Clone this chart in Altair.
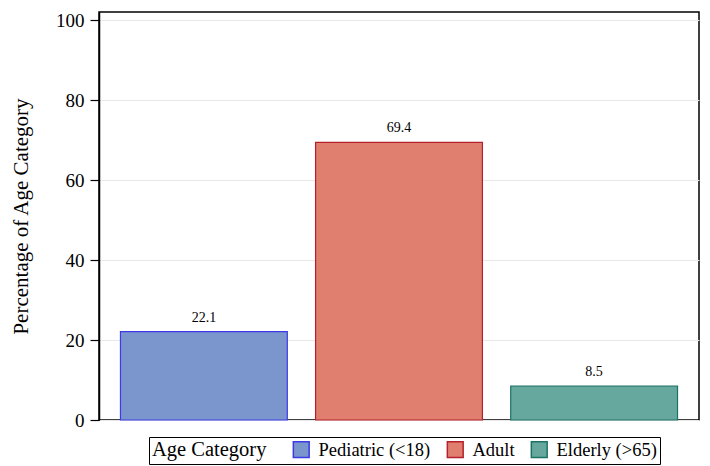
import altair as alt
import pandas as pd

categories = ["Pediatric (<18)", "Adult", "Elderly (>65)"]
values = [22.1, 69.4, 8.5]
fills = ["#7b96cc", "#e07f6f", "#66a89e"]
strokes = ["#3a3ae6", "#b5202c", "#1d7266"]
y_ticks = [0, 20, 40, 60, 80, 100]

df = pd.DataFrame({"cat": categories, "val": values, "label": [f"{v:.1f}" for v in values]})

FONT = "Liberation Serif"

x = alt.X("cat:N", sort=categories, axis=None,
          scale=alt.Scale(paddingInner=0.145, paddingOuter=0.11))

bars = alt.Chart(df).mark_bar(strokeWidth=1.2).encode(
    x=x,
    y=alt.Y("val:Q", scale=alt.Scale(domain=[0, 102], nice=False),
            axis=alt.Axis(values=y_ticks, title="Percentage of Age Category",
                          grid=True, gridColor="#e8e8e8", gridWidth=1,
                          tickColor="black", tickSize=9, tickWidth=1.2,
                          domainColor="black", domainWidth=1.5,
                          labelFont=FONT, labelFontSize=19, labelColor="black",
                          labelPadding=6,
                          titleFont=FONT, titleFontSize=21, titleFontWeight="normal",
                          titleColor="black", titlePadding=24)),
    color=alt.Color("cat:N", sort=categories,
                    scale=alt.Scale(domain=categories, range=fills),
                    legend=alt.Legend(title="Age Category", orient="none",
                                      legendX=50, legendY=425, direction="horizontal",
                                      titleOrient="left", titleFont=FONT, titleFontSize=20.5,
                                      titleFontWeight="normal", titleColor="black",
                                      titlePadding=25,
                                      labelFont=FONT, labelFontSize=18.5, labelColor="black",
                                      labelOffset=8, columnPadding=13,
                                      symbolType="square", symbolSize=250,
                                      symbolStrokeWidth=1.5,
                                      strokeColor="black", padding=3, cornerRadius=0)),
    stroke=alt.Stroke("cat:N", sort=categories,
                      scale=alt.Scale(domain=categories, range=strokes), legend=None),
)

labels = alt.Chart(df).mark_text(dy=-7, font=FONT, fontSize=14, color="black",
                                 baseline="bottom").encode(
    x=x, y=alt.Y("val:Q"), text="label:N")

chart = (bars + labels).properties(
    width=600, height=408,
    background="white",
    autosize=alt.AutoSizeParams(type="none"),
    padding={"left": 91, "top": 4, "right": 3, "bottom": 50},
).configure_view(stroke="black", strokeWidth=1.5)

chart.save("out.html", embed_options={"renderer": "svg", "actions": False})
